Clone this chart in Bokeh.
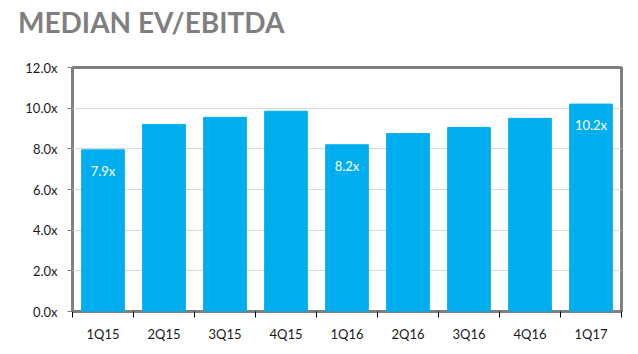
from bokeh.plotting import figure
from bokeh.models import ColumnDataSource, FixedTicker, Range1d, Div
from bokeh.layouts import column
from bokeh.core.properties import value
from bokeh.embed import file_html
from bokeh.resources import INLINE

title_text = "MEDIAN EV/EBITDA"
quarters = ["1Q15", "2Q15", "3Q15", "4Q15", "1Q16", "2Q16", "3Q16", "4Q16", "1Q17"]
ev_ebitda = [7.95, 9.2, 9.55, 9.85, 8.2, 8.75, 9.05, 9.5, 10.2]
bar_labels = ["7.9x", "", "", "", "8.2x", "", "", "", "10.2x"]
y_ticks = [0, 2, 4, 6, 8, 10, 12]
y_tick_labels = ["0.0x", "2.0x", "4.0x", "6.0x", "8.0x", "10.0x", "12.0x"]

FONT = "Lato"
n = len(quarters)
centers = [i + 0.5 for i in range(n)]
src = ColumnDataSource(dict(x=centers, top=ev_ebitda, lab=bar_labels))

DIV_H = 40
title = Div(text=('<div style="font-family:Lato;font-size:28px;font-weight:bold;'
                  'color:#7f7f7f;margin:0;padding:8px 0 0 18px;line-height:1;'
                  'white-space:nowrap;">' + title_text + '</div>'),
            width=638, height=DIV_H, margin=(0, 0, 0, 0))

p = figure(width=638, height=354 - DIV_H, output_backend="svg", toolbar_location=None,
           x_range=Range1d(0, n), y_range=Range1d(0, 12),
           min_border_left=72, min_border_right=17, min_border_bottom=43,
           min_border_top=67 - DIV_H, margin=(0, 0, 0, 0))

p.vbar(x="x", top="top", width=0.7, bottom=0, source=src, color="#00AEEF")
p.text(x="x", y="top", text="lab", source=src, text_color="white",
       text_font=value(FONT), text_font_size="13px", text_align="center",
       text_baseline="middle", y_offset=21)

p.outline_line_color = "#808080"
p.outline_line_width = 3
p.background_fill_color = "white"
p.border_fill_color = "white"

p.xgrid.grid_line_color = None
p.ygrid.grid_line_color = "#d9d9d9"
p.ygrid.grid_line_width = 1
p.ygrid.ticker = FixedTicker(ticks=y_ticks)

xa = p.xaxis[0]
xa.ticker = FixedTicker(ticks=centers, minor_ticks=list(range(n + 1)))
xa.major_label_overrides = {c: q for c, q in zip(centers, quarters)}
xa.axis_line_color = None
xa.major_tick_line_color = None
xa.major_tick_out = 0
xa.major_tick_in = 0
xa.minor_tick_line_color = "black"
xa.minor_tick_out = 6
xa.minor_tick_in = 0
xa.major_label_standoff = 8
xa.major_label_text_font = FONT
xa.major_label_text_font_size = "13px"
xa.major_label_text_color = "#1a1a1a"

ya = p.yaxis[0]
ya.ticker = FixedTicker(ticks=y_ticks)
ya.major_label_overrides = {t: l for t, l in zip(y_ticks, y_tick_labels)}
ya.axis_line_color = None
ya.major_tick_line_color = "#808080"
ya.major_tick_out = 5
ya.major_tick_in = 0
ya.minor_tick_line_color = None
ya.major_label_standoff = 10
ya.major_label_text_font = FONT
ya.major_label_text_font_size = "13px"
ya.major_label_text_color = "#1a1a1a"

layout = column(title, p, spacing=0, margin=(0, 0, 0, 0))
open("out.html", "w").write(file_html(layout, INLINE))
